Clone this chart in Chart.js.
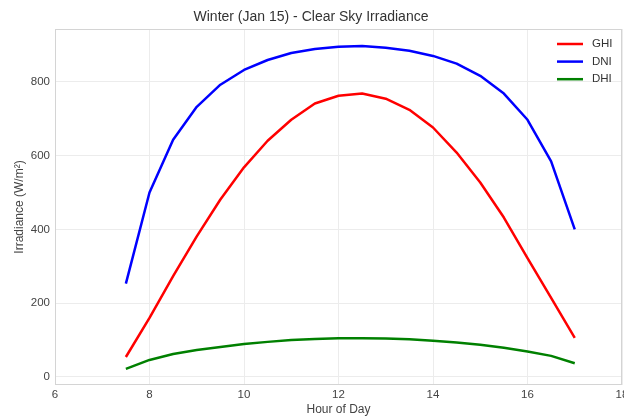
<!DOCTYPE html>
<html>
<head>
<meta charset="utf-8">
<script src="https://cdn.jsdelivr.net/npm/chart.js@4.4.0/dist/chart.umd.min.js"></script>
<style>
  html, body { margin: 0; padding: 0; background: #fff; overflow: hidden; }
  #wrap { width: 624px; height: 417px; overflow: hidden; }
</style>
</head>
<body>
<div id="wrap"><canvas id="chart" width="640" height="417"></canvas></div>
<script>
// hour of day (every half hour)
const hours = [7.5, 8, 8.5, 9, 9.5, 10, 10.5, 11, 11.5, 12, 12.5, 13, 13.5, 14, 14.5, 15, 15.5, 16, 16.5, 17];

// irradiance in W/m²
const ghi = [54, 160, 273, 381, 481, 568, 640, 697, 741, 762, 768, 754, 724, 676, 608, 527, 432, 322, 214, 106];
const dni = [253, 500, 643, 732, 792, 832, 859, 878, 889, 895, 897, 892, 884, 870, 849, 816, 768, 697, 584, 400];
const dhi = [22, 46, 62, 73, 81, 89, 95, 100, 103, 105, 105, 104, 102, 98, 93, 87, 79, 69, 57, 37];

const xTicks = [6, 8, 10, 12, 14, 16, 18];
const yTicks = [0, 200, 400, 600, 800];

const fontFamily = '"Liberation Sans", Arial, sans-serif';
const textColor = '#444';
const gridColor = '#ececec';
const frameColor = '#d4d4d4';

const toPoints = (vals) => hours.map((h, i) => ({x: h, y: vals[i]}));

// full box around the plot area, like the matplotlib axes frame
const framePlugin = {
    id: 'frame',
    beforeDatasetsDraw(chart) {
        const {ctx, chartArea} = chart;
        ctx.save();
        ctx.strokeStyle = frameColor;
        ctx.lineWidth = 1;
        ctx.strokeRect(chartArea.left + 0.5, chartArea.top + 0.5,
            chartArea.right - chartArea.left - 1, chartArea.bottom - chartArea.top - 1);
        ctx.restore();
    }
};

// legend drawn inside the plot, top right
const insideLegend = {
    id: 'insideLegend',
    afterDraw(chart) {
        const {ctx, chartArea} = chart;
        chart.data.datasets.forEach((ds, i) => {
            const y = chartArea.top + 15 + i * 17.6;
            ctx.save();
            ctx.strokeStyle = ds.borderColor;
            ctx.lineWidth = 2.5;
            ctx.beginPath();
            ctx.moveTo(chartArea.right - 65, y);
            ctx.lineTo(chartArea.right - 39, y);
            ctx.stroke();
            ctx.fillStyle = '#333';
            ctx.font = '11.5px ' + fontFamily;
            ctx.textBaseline = 'middle';
            ctx.fillText(ds.label, chartArea.right - 30, y);
            ctx.restore();
        });
    }
};

const lineStyle = {
    borderWidth: 2.5,
    pointRadius: 0,
    tension: 0,
    fill: false,
    borderJoinStyle: 'round'
};

new Chart(document.getElementById('chart'), {
    type: 'line',
    data: {
        datasets: [
            {label: 'GHI', data: toPoints(ghi), borderColor: '#ff0000', ...lineStyle},
            {label: 'DNI', data: toPoints(dni), borderColor: '#0000ff', ...lineStyle},
            {label: 'DHI', data: toPoints(dhi), borderColor: '#008000', ...lineStyle}
        ]
    },
    options: {
        responsive: false,
        animation: false,
        devicePixelRatio: 1,
        layout: {padding: {top: 0, right: 18, bottom: 0, left: 0}},
        plugins: {
            legend: {display: false},
            tooltip: {enabled: false},
            title: {
                display: true,
                text: 'Winter (Jan 15) - Clear Sky Irradiance',
                color: '#333',
                font: {family: fontFamily, size: 14, weight: 'normal'},
                padding: {top: 9, bottom: 3.2}
            }
        },
        scales: {
            x: {
                type: 'linear',
                min: 6,
                max: 18,
                afterBuildTicks: s => { s.ticks = xTicks.map(v => ({value: v})); },
                afterFit: s => { s.height = 32; },
                grid: {color: gridColor, drawTicks: false},
                border: {display: false},
                ticks: {color: textColor, padding: 3, maxRotation: 0,
                        font: {family: fontFamily, size: 11.5}},
                title: {display: true, text: 'Hour of Day', color: textColor,
                        padding: {top: 0, bottom: 0},
                        font: {family: fontFamily, size: 12}}
            },
            y: {
                min: -21.9,
                max: 943,
                afterBuildTicks: s => { s.ticks = yTicks.map(v => ({value: v})); },
                afterFit: s => { s.width = 55; },
                grid: {color: gridColor, drawTicks: false},
                border: {display: false},
                ticks: {color: textColor, padding: 5,
                        font: {family: fontFamily, size: 11.5}},
                title: {display: true, text: 'Irradiance (W/m²)', color: textColor,
                        padding: {top: 12, bottom: 0},
                        font: {family: fontFamily, size: 12}}
            }
        }
    },
    plugins: [framePlugin, insideLegend]
});
</script>
</body>
</html>
